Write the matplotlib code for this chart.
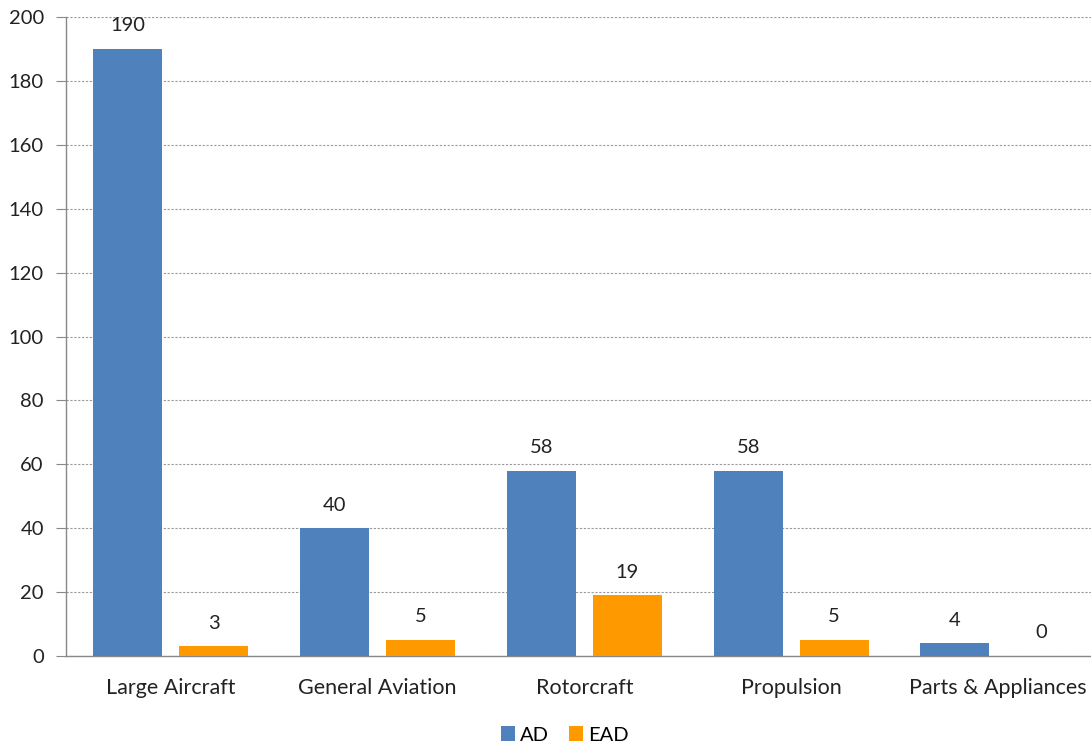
import matplotlib
matplotlib.use("Agg")
import matplotlib.pyplot as plt
import numpy as np

categories = ["Large Aircraft", "General Aviation", "Rotorcraft", "Propulsion", "Parts & Appliances"]
ad_values = [190, 40, 58, 58, 4]
ead_values = [3, 5, 19, 5, 0]
series_names = ["AD", "EAD"]
yticks = [0, 20, 40, 60, 80, 100, 120, 140, 160, 180, 200]

plt.rcParams['font.family'] = ['Lato', 'DejaVu Sans']

W, H = 1091, 747
fig = plt.figure(figsize=(W/100, H/100), dpi=100)
ax = fig.add_axes([66/W, 1-656/H, 1-66/W, (656-17)/H])

x = np.arange(len(categories))
bw = 0.334
off = 0.208
blue = "#4F81BD"
orange = "#FF9900"
fs = 14.5
tc = "#222222"
b1 = ax.bar(x - off, ad_values, bw, color=blue, label=series_names[0], zorder=3)
b2 = ax.bar(x + off, ead_values, bw, color=orange, label=series_names[1], zorder=3)

for bars, vals in ((b1, ad_values), (b2, ead_values)):
    for r, v in zip(bars, vals):
        ax.annotate(str(v), (r.get_x() + r.get_width()/2, v), xytext=(0, 10.5),
                    textcoords="offset points", ha="center", va="bottom",
                    fontsize=fs, color=tc)

ax.set_xlim(-0.507, 4.45)
ax.set_ylim(0, 200)
ax.set_yticks(yticks)
ax.set_yticklabels([str(t) for t in yticks], fontsize=fs, color=tc)
ax.set_xticks(x)
ax.set_xticklabels(categories, fontsize=15.5, color=tc)
ax.tick_params(axis='x', length=0, pad=16)
ax.tick_params(axis='y', length=7, color="#888888", pad=9)
ax.yaxis.grid(True, linestyle=(0, (2, 1.5)), color="#999999", linewidth=0.8, zorder=0)
for s in ("top", "right"):
    ax.spines[s].set_visible(False)
for s in ("left", "bottom"):
    ax.spines[s].set_color("#888888")
    ax.spines[s].set_linewidth(1.0)

leg = fig.legend(handles=[b1, b2], labels=series_names, loc="center",
                 bbox_to_anchor=(565/W, 1-735/H), ncol=2, frameon=False,
                 fontsize=fs, handlelength=0.7, handleheight=0.7,
                 handletextpad=0.25, columnspacing=1.0)

fig.savefig("out.png", dpi=100)
